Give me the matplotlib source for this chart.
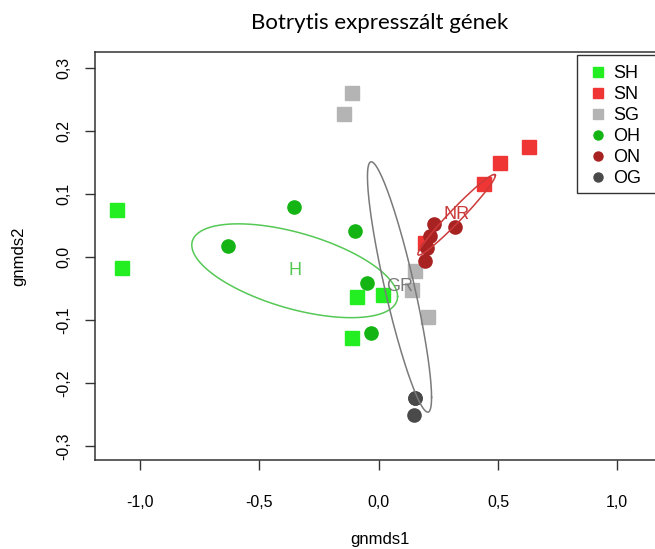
import numpy as np
import matplotlib
matplotlib.use("Agg")
import matplotlib.pyplot as plt
from matplotlib.lines import Line2D
from matplotlib.patches import Rectangle

plt.rcParams['font.family'] = ['Liberation Sans', 'DejaVu Sans']

# NMDS scores (gnmds1, gnmds2)
sh_x = [-1.096, -1.075, -0.091, 0.020, -0.112]
sh_y = [0.075, -0.018, -0.064, -0.060, -0.129]
sn_x = [0.632, 0.507, 0.442, 0.195]
sn_y = [0.175, 0.149, 0.116, 0.022]
sg_x = [-0.110, -0.145, 0.153, 0.139, 0.205]
sg_y = [0.260, 0.227, -0.023, -0.053, -0.095]
oh_x = [-0.354, -0.630, -0.101, -0.049, -0.033]
oh_y = [0.079, 0.018, 0.041, -0.041, -0.120]
on_x = [0.321, 0.233, 0.213, 0.202, 0.195]
on_y = [0.047, 0.052, 0.033, 0.014, -0.006]
og_x = [0.153, 0.153, 0.150]
og_y = [-0.223, -0.223, -0.251]

groups = [
    ('SH', sh_x, sh_y, 's', '#22EE22'),
    ('SN', sn_x, sn_y, 's', '#F03535'),
    ('SG', sg_x, sg_y, 's', '#B4B4B4'),
    ('OH', oh_x, oh_y, 'o', '#14B414'),
    ('ON', on_x, on_y, 'o', '#A82222'),
    ('OG', og_x, og_y, 'o', '#4A4A4A'),
]

# ellipse groups (sd ellipses, like vegan::ordiellipse)
ell_groups = [
    ('H', sh_x + oh_x, sh_y + oh_y, '#55C855'),
    ('NR', sn_x + on_x, sn_y + on_y, '#CC3A3A'),
    ('GR', sg_x + og_x, sg_y + og_y, '#7A7A7A'),
]

W, H = 655, 549
fig = plt.figure(figsize=(W / 100, H / 100), dpi=100)
ax_l, ax_r, ax_t, ax_b = 95, 665, 52, 460
ax = fig.add_axes([ax_l / W, (H - ax_b) / H, (ax_r - ax_l) / W, (ax_b - ax_t) / H])

for name, xs, ys, mk, col in groups:
    ax.plot(xs, ys, linestyle='none', marker=mk, markersize=9.5,
            markerfacecolor=col, markeredgecolor=col, zorder=3)

t = np.linspace(0, 2 * np.pi, 200)
circle = np.vstack([np.cos(t), np.sin(t)])
for lab, xs, ys, col in ell_groups:
    pts = np.array([xs, ys])
    center = pts.mean(axis=1)
    cov = np.cov(pts)
    L = np.linalg.cholesky(cov)
    e = center[:, None] + L @ circle
    ax.plot(e[0], e[1], color=col, linewidth=1.1, zorder=4)
    ax.text(center[0], center[1], lab, color=col, fontsize=13,
            ha='center', va='center', zorder=5)

ax.set_xlim(-1.189, 1.20)
ax.set_ylim(-0.322, 0.325)
ax.set_xticks([-1.0, -0.5, 0.0, 0.5, 1.0])
ax.set_xticklabels(['-1,0', '-0,5', '0,0', '0,5', '1,0'])
ax.set_yticks([-0.3, -0.2, -0.1, 0.0, 0.1, 0.2, 0.3])
ax.set_yticklabels(['-0,3', '-0,2', '-0,1', '0,0', '0,1', '0,2', '0,3'],
                   rotation=90, va='center')
ax.tick_params(direction='out', length=7, width=1, labelsize=11.5,
               colors='#333333', labelcolor='black')
ax.tick_params(axis='x', pad=18)
ax.tick_params(axis='y', pad=10)
for s in ax.spines.values():
    s.set_color('#333333')
    s.set_linewidth(1.1)

ax.set_xlabel('gnmds1', fontsize=12, labelpad=16)
ax.set_ylabel('gnmds2', fontsize=12, labelpad=22)
fig.text((ax_l + ax_r) / 2 / W, 1 - 23 / H, 'Botrytis expresszált gének',
         ha='center', va='center', fontsize=16, family=['Lato', 'DejaVu Sans'])

# legend box, top right corner of the plot (cut by the image edge)
fig.patches.append(Rectangle((577 / W, 1 - 193 / H), (670 - 577) / W, (193 - 55) / H,
                             transform=fig.transFigure, facecolor='white',
                             edgecolor='#333333', linewidth=1.0, zorder=6))
handles = [Line2D([], [], linestyle='none', marker=mk, markersize=6.5,
                  markerfacecolor=col, markeredgecolor=col, label=name)
           for name, xs, ys, mk, col in groups]
leg = fig.legend(handles=handles, loc='upper left',
                 bbox_to_anchor=(589 / W, 1 - 65 / H),
                 fontsize=13, frameon=False, borderpad=0,
                 labelspacing=0.22, handletextpad=0.35, handlelength=1.0,
                 borderaxespad=0)
leg.set_zorder(7)

fig.savefig('out.png', dpi=100)
